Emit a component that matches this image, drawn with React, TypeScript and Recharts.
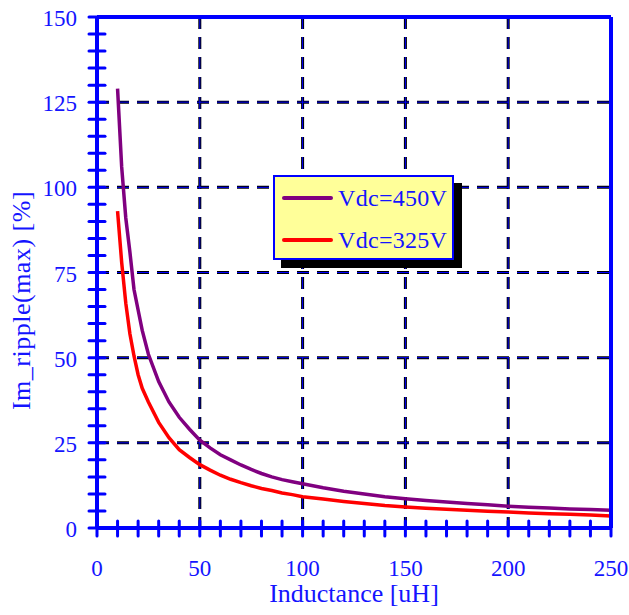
import { LineChart, Line, XAxis, YAxis, CartesianGrid, ReferenceLine, Legend } from 'recharts';

const inductance = [10, 12, 14, 16, 18, 20, 22, 25, 30, 35, 40, 45, 50, 55, 60, 65, 70, 75, 80, 85, 90, 95, 100, 110, 120, 130, 140, 150, 160, 170, 180, 190, 200, 210, 220, 230, 240, 250];
const vdc450 = [129, 106, 91, 81, 70, 64, 58, 51, 43, 37, 32.5, 29, 25.8, 23.5, 21.5, 20, 18.5, 17.2, 16, 15, 14.2, 13.6, 13, 11.8, 10.8, 10, 9.2, 8.6, 8.1, 7.6, 7.2, 6.8, 6.4, 6.1, 5.9, 5.6, 5.4, 5.2];
const vdc325 = [93, 78, 66, 57, 50.5, 45, 41, 37, 31, 26.5, 23, 20.7, 18.6, 17, 15.5, 14.3, 13.3, 12.4, 11.6, 11, 10.3, 9.8, 9.2, 8.5, 7.8, 7.2, 6.6, 6.2, 5.8, 5.5, 5.2, 4.9, 4.7, 4.4, 4.2, 4.0, 3.8, 3.5];

const xTicks = [0, 10, 20, 30, 40, 50, 60, 70, 80, 90, 100, 110, 120, 130, 140, 150, 160, 170, 180, 190, 200, 210, 220, 230, 240, 250];
const xLabels = [0, 50, 100, 150, 200, 250];
const yTicks = [0, 5, 10, 15, 20, 25, 30, 35, 40, 45, 50, 55, 60, 65, 70, 75, 80, 85, 90, 95, 100, 105, 110, 115, 120, 125, 130, 135, 140, 145, 150];
const yLabels = [0, 25, 50, 75, 100, 125, 150];
const gridX = [50, 100, 150, 200];
const gridY = [25, 50, 75, 100, 125];

const data = inductance.map((l, i) => ({ l, v450: vdc450[i], v325: vdc325[i] }));

const BLUE = '#0000ff';
const TEXT_BLUE = '#1414ff';
const FONT = '"Liberation Serif", "Times New Roman", serif';

const XTick = (props: any) => {
  const { x, y, payload } = props;
  return (
    <g>
      <line x1={x} y1={y - 7} x2={x} y2={y + 8} stroke={BLUE} strokeWidth={3} strokeLinecap="round" />
      {xLabels.includes(payload.value) && (
        <text x={x} y={y + 48} textAnchor="middle" fill={TEXT_BLUE} fontSize={23} fontFamily={FONT}>
          {payload.value}
        </text>
      )}
    </g>
  );
};

const YTick = (props: any) => {
  const { x, y, payload } = props;
  return (
    <g>
      <line x1={x - 8} y1={y} x2={x + 8} y2={y} stroke={BLUE} strokeWidth={3} strokeLinecap="round" />
      {yLabels.includes(payload.value) && (
        <text x={x - 20} y={y + 9} textAnchor="end" fill={TEXT_BLUE} fontSize={23} fontFamily={FONT}>
          {payload.value}
        </text>
      )}
    </g>
  );
};

const LegendBox = () => (
  <div
    style={{
      width: 177,
      height: 81,
      border: `2px solid ${BLUE}`,
      background: '#ffff99',
      boxShadow: '8px 8px 0 #000',
      fontFamily: FONT,
      color: TEXT_BLUE,
      fontSize: 24,
      letterSpacing: 0.3,
    }}
  >
    {[
      { name: 'Vdc=450V', color: '#800080' },
      { name: 'Vdc=325V', color: '#ff0000' },
    ].map((s) => (
      <div key={s.name} style={{ display: 'flex', alignItems: 'center', height: 42 }}>
        <div style={{ width: 51, height: 4, background: s.color, marginLeft: 7, marginRight: 5, borderRadius: 2 }} />
        <span>{s.name}</span>
      </div>
    ))}
  </div>
);

export default function App() {
  return (
    <div style={{ position: 'absolute', left: 0, top: 0, background: '#fff' }}>
      <LineChart width={629} height={615} data={data} margin={{ top: 17, right: 18, bottom: 27, left: 0 }}>
        <CartesianGrid horizontalValues={gridY} verticalValues={gridX} stroke="#000" strokeWidth={3} strokeDasharray="12 8" />
        <CartesianGrid horizontalValues={gridY} verticalValues={gridX} stroke={BLUE} strokeWidth={1} strokeDasharray="12 8" />
        <XAxis
          dataKey="l"
          type="number"
          domain={[0, 250]}
          ticks={xTicks}
          interval={0}
          height={60}
          tickSize={0}
          tickMargin={0}
          tickLine={false}
          tick={<XTick />}
          axisLine={{ stroke: BLUE, strokeWidth: 4 }}
          label={({ viewBox }: any) => (
            <text x={viewBox.x + viewBox.width / 2} y={viewBox.y + 74} textAnchor="middle" fill={TEXT_BLUE} fontSize={26} fontFamily={FONT}>
              Inductance [uH]
            </text>
          )}
        />
        <YAxis
          type="number"
          domain={[0, 150]}
          ticks={yTicks}
          interval={0}
          width={97}
          tickSize={0}
          tickMargin={0}
          tickLine={false}
          tick={<YTick />}
          axisLine={{ stroke: BLUE, strokeWidth: 4 }}
          label={({ viewBox }: any) => {
            const cx = 21;
            const cy = viewBox.y + viewBox.height / 2 + 28;
            return (
              <text x={cx} y={cy} transform={`rotate(-90 ${cx} ${cy})`} textAnchor="middle" dominantBaseline="central" fill={TEXT_BLUE} fontSize={26} fontFamily={FONT} letterSpacing={0.5}>
                Im_ripple(max) [%]
              </text>
            );
          }}
        />
        <Line dataKey="v450" name="Vdc=450V" stroke="#800080" strokeWidth={3.5} dot={false} type="linear" isAnimationActive={false} />
        <Line dataKey="v325" name="Vdc=325V" stroke="#ff0000" strokeWidth={3.5} dot={false} type="linear" isAnimationActive={false} />
        <ReferenceLine y={150} stroke={BLUE} strokeWidth={4} />
        <ReferenceLine x={250} stroke={BLUE} strokeWidth={4} />
        <Legend
          layout="horizontal"
          verticalAlign="middle"
          align="center"
          content={<LegendBox />}
          wrapperStyle={{ position: 'absolute', left: 273, top: 175, width: 'auto', height: 'auto' }}
        />
      </LineChart>
    </div>
  );
}
